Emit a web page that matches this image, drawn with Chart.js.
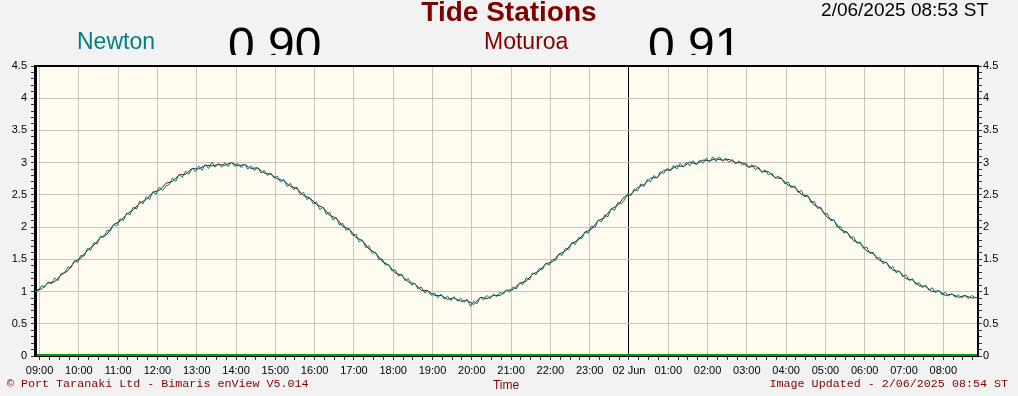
<!DOCTYPE html>
<html>
<head>
<meta charset="utf-8">
<script src="https://cdn.jsdelivr.net/npm/chart.js@4.4.1/dist/chart.umd.min.js"></script>
<style>
html, body { margin: 0; padding: 0; background: #f2f2f2; }
#wrap { position: relative; width: 1018px; height: 396px; overflow: hidden; font-family: "Liberation Sans", Arial, sans-serif; }
#wrap canvas { position: absolute; left: 0; top: 0; }
.t { position: absolute; white-space: nowrap; line-height: 1; }
.mono { font-family: "Liberation Mono", "Courier New", monospace; font-size: 11.7px; color: #800000; }
#clip { position: absolute; left: 0; top: 0; width: 1018px; height: 55px; overflow: hidden; }
</style>
</head>
<body>
<div id="wrap">
	<canvas id="chart-area" width="1018" height="396"></canvas>
	<div class="t" style="left:0; width:1018px; top:-2px; text-align:center; font-size:28px; font-weight:bold; color:#800000;">Tide Stations</div>
	<div class="t" style="right:30px; top:0px; font-size:19px; color:#000;">2/06/2025 08:53 ST</div>
	<div class="t" style="left:77px; top:30px; font-size:23px; color:#008080;">Newton</div>
	<div class="t" style="left:484px; top:30px; font-size:23px; color:#800000;">Moturoa</div>
	<div id="clip">
		<div class="t" style="left:228px; top:21px; font-size:48px; color:#000;">0.90</div>
		<div class="t" style="left:648px; top:21px; font-size:48px; color:#000;">0.91</div>
	</div>
	<div class="t mono" style="left:7px; top:379px;">&copy; Port Taranaki Ltd - Bimaris enView V5.014</div>
	<div class="t" style="left:456px; width:100px; top:379px; text-align:center; font-size:12px; color:#800000;">Time</div>
	<div class="t mono" style="right:10px; top:379px;">Image Updated - 2/06/2025 08:54 ST</div>
</div>
<script>
// time axis in minutes from 00:00 on 1 Jun
var startMinute = 533;	// 08:53
var endMinute = 1973;	// 08:53 next day

var hourLabels = ['09:00', '10:00', '11:00', '12:00', '13:00', '14:00', '15:00', '16:00',
	'17:00', '18:00', '19:00', '20:00', '21:00', '22:00', '23:00', '02 Jun',
	'01:00', '02:00', '03:00', '04:00', '05:00', '06:00', '07:00', '08:00'];

var levelLabels = ['0', '0.5', '1', '1.5', '2', '2.5', '3', '3.5', '4', '4.5'];

// Newton, 5 minute samples from 08:53 (one row per hour)
var newtonLevels = [
	1.00, 1.01, 1.09, 1.07, 1.15, 1.12, 1.21, 1.17, 1.28, 1.29, 1.38, 1.37,
	1.48, 1.45, 1.56, 1.55, 1.67, 1.64, 1.76, 1.74, 1.86, 1.84, 1.95, 1.94,
	2.04, 2.02, 2.13, 2.10, 2.22, 2.19, 2.31, 2.28, 2.40, 2.36, 2.47, 2.43,
	2.55, 2.51, 2.62, 2.57, 2.64, 2.66, 2.76, 2.71, 2.82, 2.77, 2.87, 2.82,
	2.91, 2.86, 2.95, 2.88, 2.97, 2.91, 3.01, 2.93, 2.99, 2.93, 3.00, 2.94,
	3.01, 2.94, 2.99, 2.92, 2.98, 2.90, 2.95, 2.88, 2.92, 2.84, 2.88, 2.80,
	2.84, 2.76, 2.79, 2.70, 2.74, 2.63, 2.68, 2.58, 2.62, 2.50, 2.54, 2.43,
	2.45, 2.36, 2.39, 2.27, 2.31, 2.20, 2.23, 2.11, 2.15, 2.03, 2.06, 1.95,
	1.97, 1.87, 1.89, 1.77, 1.80, 1.68, 1.71, 1.59, 1.61, 1.50, 1.51, 1.41,
	1.42, 1.32, 1.34, 1.24, 1.27, 1.17, 1.20, 1.10, 1.13, 1.04, 1.07, 0.98,
	1.01, 0.94, 0.98, 0.90, 0.96, 0.88, 0.93, 0.86, 0.92, 0.85, 0.90, 0.83,
	0.88, 0.77, 0.85, 0.81, 0.91, 0.87, 0.94, 0.89, 0.96, 0.92, 0.99, 0.96,
	1.02, 0.99, 1.07, 1.04, 1.13, 1.11, 1.21, 1.18, 1.29, 1.26, 1.36, 1.34,
	1.44, 1.41, 1.50, 1.48, 1.58, 1.56, 1.67, 1.65, 1.76, 1.73, 1.84, 1.82,
	1.93, 1.90, 2.02, 1.99, 2.11, 2.08, 2.19, 2.16, 2.29, 2.26, 2.38, 2.36,
	2.42, 2.52, 2.49, 2.59, 2.56, 2.67, 2.63, 2.74, 2.70, 2.80, 2.76, 2.86,
	2.83, 2.91, 2.87, 2.96, 2.90, 2.99, 2.93, 3.01, 2.95, 3.03, 2.97, 3.04,
	2.99, 3.07, 3.01, 3.09, 3.02, 3.09, 3.02, 3.07, 3.00, 3.05, 2.98, 3.03,
	2.96, 3.00, 2.93, 2.97, 2.89, 2.93, 2.85, 2.89, 2.81, 2.84, 2.76, 2.79,
	2.76, 2.67, 2.70, 2.61, 2.64, 2.54, 2.57, 2.47, 2.49, 2.38, 2.40, 2.29,
	2.31, 2.20, 2.21, 2.10, 2.11, 2.00, 2.01, 1.91, 1.93, 1.83, 1.85, 1.75,
	1.77, 1.67, 1.69, 1.59, 1.61, 1.51, 1.53, 1.43, 1.46, 1.36, 1.39, 1.29,
	1.32, 1.23, 1.26, 1.17, 1.20, 1.11, 1.14, 1.06, 1.10, 1.02, 1.06, 0.98,
	1.02, 0.95, 0.99, 0.93, 0.97, 0.91, 0.95, 0.90, 0.94, 0.89, 0.94, 0.91,
	0.90
];

// Moturoa, 10 minute samples from 08:53
var moturoaLevels = [
	1.02, 1.04, 1.13, 1.15, 1.26, 1.32,
	1.46, 1.52, 1.64, 1.72, 1.84, 1.89,
	2.04, 2.09, 2.20, 2.27, 2.37, 2.43,
	2.54, 2.57, 2.68, 2.71, 2.81, 2.82,
	2.91, 2.90, 2.96, 2.95, 2.97, 2.96,
	3.00, 2.95, 2.97, 2.91, 2.92, 2.84,
	2.82, 2.75, 2.72, 2.63, 2.60, 2.49,
	2.45, 2.35, 2.30, 2.18, 2.14, 2.01,
	1.97, 1.84, 1.79, 1.66, 1.60, 1.47,
	1.41, 1.29, 1.25, 1.15, 1.12, 1.02,
	1.01, 0.94, 0.94, 0.88, 0.90, 0.85,
	0.86, 0.80, 0.91, 0.89, 0.94, 0.94,
	1.02, 1.03, 1.13, 1.16, 1.27, 1.32,
	1.43, 1.46, 1.58, 1.63, 1.75, 1.80,
	1.92, 1.97, 2.10, 2.15, 2.28, 2.34,
	2.47, 2.51, 2.61, 2.66, 2.76, 2.77,
	2.88, 2.89, 2.95, 2.94, 3.01, 2.98,
	3.04, 3.03, 3.06, 3.04, 3.05, 3.00,
	3.00, 2.93, 2.95, 2.86, 2.86, 2.77,
	2.75, 2.65, 2.62, 2.51, 2.48, 2.34,
	2.29, 2.15, 2.10, 1.96, 1.92, 1.79,
	1.75, 1.63, 1.59, 1.48, 1.45, 1.33,
	1.31, 1.20, 1.18, 1.09, 1.08, 1.00,
	1.01, 0.94, 0.96, 0.91, 0.94, 0.90,
	0.91
];

var fontName = '"Liberation Sans", Arial, sans-serif';
var gridColor = '#c9c3b9';

function toPoints(levels, step) {
	return levels.map(function(v, i) {
		return { x: startMinute + i * step, y: v };
	});
}

var xTicks = [];
for (var m = 540; m <= endMinute; m += 15) xTicks.push(m);
var yTicks = [];
for (var k = 0; k <= 45; k++) yTicks.push(k / 10);

function isHalf(v) {
	return Math.abs(v * 2 - Math.round(v * 2)) < 1e-6;
}

function levelTickLabel(v) {
	return isHalf(v) ? levelLabels[Math.round(v * 2)] : '';
}

var frame = {
	id: 'frame',
	beforeDraw: function(chart) {
		var a = chart.chartArea, c = chart.ctx;
		c.save();
		c.fillStyle = '#fffbf0';
		c.fillRect(a.left, a.top, a.right - a.left, a.bottom - a.top);
		c.restore();
	},
	afterDraw: function(chart) {
		var a = chart.chartArea, c = chart.ctx;
		var y0 = chart.scales.y.getPixelForValue(0);
		c.save();
		c.strokeStyle = 'rgb(0,160,0)';
		c.lineWidth = 2;
		c.beginPath();
		c.moveTo(a.left + 2, y0 - 1);
		c.lineTo(a.right - 1, y0 - 1);
		c.stroke();
		c.restore();
	}
};

var levelAxis = function(position, width, padding) {
	return {
		type: 'linear',
		position: position,
		min: 0,
		max: 4.5,
		afterBuildTicks: function(s) { s.ticks = yTicks.map(function(v) { return { value: v }; }); },
		afterFit: function(s) { s.width = width; },
		ticks: {
			autoSkip: false,
			padding: padding,
			color: '#000',
			font: { family: fontName, size: 11 },
			callback: levelTickLabel
		},
		grid: {
			drawOnChartArea: position == 'left',
			color: function(ctx) { return ctx.tick && isHalf(ctx.tick.value) ? gridColor : 'rgba(0,0,0,0)'; },
			tickLength: 4,
			tickColor: '#333'
		},
		border: { display: true, color: '#000', width: position == 'left' ? 3 : 2 }
	};
};

var config = {
	type: 'line',
	data: {
		datasets: [
			{
				label: 'Newton',
				data: toPoints(newtonLevels, 5),
				borderColor: '#007a7a',
				borderWidth: 1,
				pointRadius: 0,
				tension: 0,
				fill: false
			},
			{
				label: 'Moturoa',
				data: toPoints(moturoaLevels, 10),
				borderColor: '#6a1010',
				borderWidth: 1,
				pointRadius: 0,
				tension: 0,
				fill: false
			}
		]
	},
	options: {
		responsive: false,
		animation: false,
		layout: { padding: { top: 66, left: 0, right: 0, bottom: 0 } },
		plugins: {
			legend: { display: false },
			title: { display: false },
			tooltip: { enabled: false }
		},
		scales: {
			x: {
				type: 'linear',
				position: 'bottom',
				min: startMinute,
				max: endMinute,
				afterBuildTicks: function(s) { s.ticks = xTicks.map(function(v) { return { value: v }; }); },
				afterFit: function(s) { s.height = 40; },
				ticks: {
					autoSkip: false,
					maxRotation: 0,
					minRotation: 0,
					padding: 4,
					color: '#000',
					font: { family: fontName, size: 11 },
					callback: function(v) { return v % 60 === 0 ? hourLabels[(v - 540) / 60] : ''; }
				},
				grid: {
					color: function(ctx) {
						if (!ctx.tick || ctx.tick.value % 60 !== 0) return 'rgba(0,0,0,0)';
						return ctx.tick.value === 1440 ? '#000' : gridColor;
					},
					tickLength: 4,
					tickColor: '#333'
				},
				border: { display: true, color: '#000', width: 2 }
			},
			xTop: {
				type: 'linear',
				position: 'top',
				min: startMinute,
				max: endMinute,
				afterFit: function(s) { s.height = 0; },
				ticks: { display: false },
				grid: { drawOnChartArea: false, drawTicks: false },
				border: { display: true, color: '#000', width: 2 }
			},
			y: levelAxis('left', 35, 4),
			y2: levelAxis('right', 40, 1)
		}
	},
	plugins: [frame]
};

var ctx01 = document.getElementById('chart-area').getContext('2d');
var chart01 = new Chart(ctx01, config);
</script>
</body>
</html>
